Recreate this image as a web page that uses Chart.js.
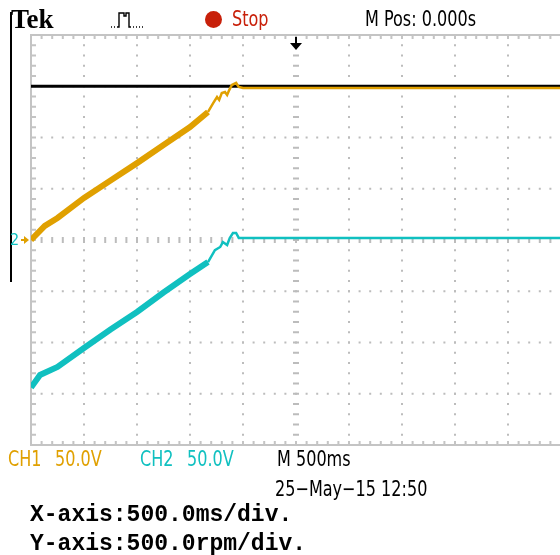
<!DOCTYPE html>
<html>
<head>
<meta charset="utf-8">
<script src="https://cdn.jsdelivr.net/npm/chart.js@4.4.1/dist/chart.umd.min.js"></script>
<style>
body { margin:0; width:560px; height:555px; overflow:hidden; background:#fff; position:relative;
       font-family:"DejaVu Sans Condensed","Liberation Sans",sans-serif; }
#scope { position:absolute; left:0; top:0; }
.t { position:absolute; white-space:pre; line-height:1; font-size:21px; transform:scaleX(0.85); transform-origin:0 0; }
.mono { position:absolute; white-space:pre; line-height:1; font-family:"Liberation Mono",monospace; font-weight:bold; font-size:23px; }
</style>
</head>
<body>
<canvas id="scope" width="600" height="555"></canvas>

<div style="position:absolute;left:10px;top:12px;width:1.5px;height:270px;background:#000"></div>
<div style="position:absolute;left:11px;top:6px;font:bold 27px 'Liberation Serif';line-height:1;white-space:pre">Tek</div>
<svg style="position:absolute;left:106px;top:6px" width="44" height="26">
  <path d="M5 21h1M8 21h1M11 21h2V7h5v3h2V7h3v14h2M27 21h1M30 21h1M33 21h1M36 21h1" stroke="#000" stroke-width="1.4" fill="none"/>
</svg>
<div style="position:absolute;left:205px;top:11px;width:17px;height:17px;border-radius:50%;background:#c8200a"></div>
<div class="t" style="left:232px;top:9px;color:#c8200a">Stop</div>
<div class="t" style="left:365px;top:9px">M Pos: 0.000s</div>

<div class="t" style="left:10px;top:232px;font-size:16px;transform:none;color:#10c0c0">2</div>

<div class="t" style="left:8px;top:449px;color:#e0a000">CH1</div>
<div class="t" style="left:55px;top:449px;color:#e0a000">50.0V</div>
<div class="t" style="left:140px;top:449px;color:#10c0c0">CH2</div>
<div class="t" style="left:187px;top:449px;color:#10c0c0">50.0V</div>
<div class="t" style="left:277px;top:449px">M 500ms</div>
<div class="t" style="left:275px;top:479px">25−May−15 12:50</div>
<div class="mono" style="left:30px;top:504px">X-axis:500.0ms/div.</div>
<div class="mono" style="left:30px;top:533px">Y-axis:500.0rpm/div.</div>

<script>
// time in s (500 ms/div), speed in rpm (500 rpm/div)
var ch1RampTime = [-2.5, -2.37, -2.25, -2.0, -1.75, -1.5, -1.25, -1.0, -0.83]
var ch1RampRpm  = [0, 137, 215, 410, 580, 750, 927, 1102, 1249]
var ch1TailTime = [-0.83, -0.78, -0.745, -0.725, -0.7, -0.67, -0.65, -0.63, -0.605, -0.565, -0.54, -0.5, 2.5]
var ch1TailRpm  = [1249, 1337, 1395, 1366, 1434, 1444, 1415, 1463, 1512, 1532, 1493, 1483, 1483]

var ch2RampTime = [-2.5, -2.415, -2.25, -2.0, -1.75, -1.5, -1.25, -1.0, -0.83]
var ch2RampRpm  = [-1440, -1317, -1239, -1054, -873, -702, -512, -332, -215]
var ch2TailTime = [-0.83, -0.765, -0.715, -0.69, -0.65, -0.625, -0.595, -0.565, -0.54, 2.5]
var ch2TailRpm  = [-215, -98, -68, -20, -49, 20, 68, 68, 20, 20]

var refTime = [-2.5, 2.5]
var refRpm  = [1500, 1500]

var ORANGE = '#e0a000'
var CYAN = '#10c0c0'

function pts(xs, ys) {
    return xs.map(function(x, i) { return {x: x, y: ys[i]} })
}

function trace(xs, ys, color, width, order) {
    return {
        data: pts(xs, ys),
        borderColor: color,
        borderWidth: width,
        pointRadius: 0,
        tension: 0,
        fill: false,
        order: order
    }
}

// graticule drawn from the scales: dotted majors, ticked centre lines, ruled border
var scopeGrid = {
    id: 'scopeGrid',
    beforeDatasetsDraw: function(chart) {
        var ctx = chart.ctx, xs = chart.scales.x, ys = chart.scales.y
        var a = chart.chartArea
        var i, j, px, py
        ctx.save()
        ctx.fillStyle = '#bcbcbc'
        for (i = -4; i <= 4; i++) {
            px = xs.getPixelForValue(i * 0.5)
            for (j = -19; j <= 19; j++) {
                py = ys.getPixelForValue(j * 100)
                if (i === 0) ctx.fillRect(px - 3, py - 1, 6, 2)
                else ctx.fillRect(px - 1, py - 1, 2, 2)
            }
        }
        for (i = -3; i <= 3; i++) {
            py = ys.getPixelForValue(i * 500)
            for (j = -24; j <= 25; j++) {
                px = xs.getPixelForValue(j * 0.1)
                if (i === 0) ctx.fillRect(px - 1, py - 3, 2, 6)
                else ctx.fillRect(px - 1, py - 1, 2, 2)
            }
        }
        // border rulers
        ctx.fillStyle = '#c4c4c4'
        ctx.fillRect(a.left - 1, a.top - 1, 2, a.bottom - a.top + 2)
        ctx.fillRect(a.left, a.top - 1, a.right - a.left, 2)
        ctx.fillRect(a.left, a.bottom - 1, a.right - a.left, 2)
        for (j = -19; j <= 19; j++) {
            py = ys.getPixelForValue(j * 100)
            ctx.fillRect(a.left, py - 1, 5, 2)
        }
        for (j = -24; j <= 25; j++) {
            px = xs.getPixelForValue(j * 0.1)
            ctx.fillRect(px - 1, a.top, 2, 4)
            ctx.fillRect(px - 1, a.bottom - 4, 2, 4)
        }
        // trigger position arrow
        var cx = xs.getPixelForValue(0)
        ctx.fillStyle = '#000'
        ctx.fillRect(cx - 1, a.top + 2, 2, 8)
        ctx.beginPath()
        ctx.moveTo(cx - 6, a.top + 8)
        ctx.lineTo(cx + 6, a.top + 8)
        ctx.lineTo(cx, a.top + 15)
        ctx.closePath()
        ctx.fill()
        // CH1 ground marker
        var gy = ys.getPixelForValue(0)
        ctx.fillStyle = ORANGE
        ctx.fillRect(21, gy - 1, 5, 2)
        ctx.beginPath()
        ctx.moveTo(24, gy - 4)
        ctx.lineTo(29, gy)
        ctx.lineTo(24, gy + 4)
        ctx.closePath()
        ctx.fill()
        ctx.restore()
    }
}

new Chart(document.getElementById('scope'), {
    type: 'line',
    data: {
        datasets: [
            trace(refTime, refRpm, '#000', 3, 5),
            trace(ch2RampTime, ch2RampRpm, CYAN, 6, 3),
            trace(ch2TailTime, ch2TailRpm, CYAN, 2.5, 3),
            trace(ch1RampTime, ch1RampRpm, ORANGE, 6, 1),
            trace(ch1TailTime, ch1TailRpm, ORANGE, 2.5, 1)
        ]
    },
    options: {
        responsive: false,
        animation: false,
        devicePixelRatio: 1,
        layout: { padding: { left: 31, top: 35, right: 39, bottom: 110 } },
        scales: {
            x: { type: 'linear', min: -2.5, max: 2.5, display: false },
            y: { min: -2000, max: 2000, display: false }
        },
        plugins: { legend: { display: false }, tooltip: { enabled: false } }
    },
    plugins: [scopeGrid]
})
</script>
</body>
</html>
